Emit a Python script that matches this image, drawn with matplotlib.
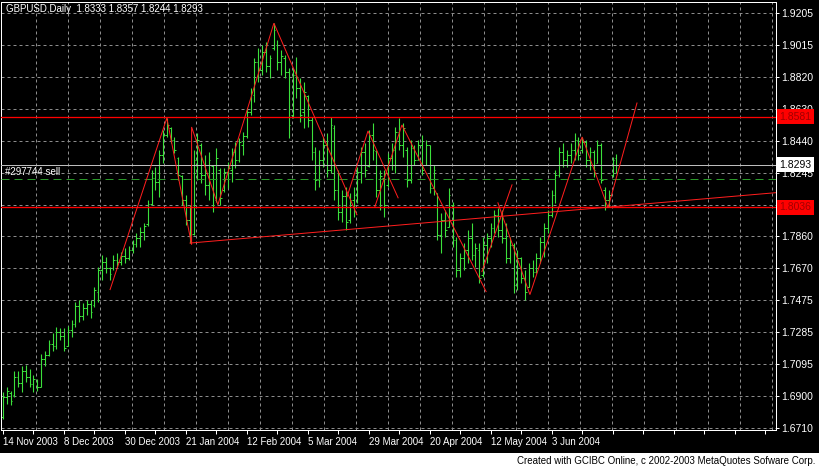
import matplotlib
matplotlib.use("Agg")
import matplotlib.pyplot as plt
from matplotlib.transforms import blended_transform_factory
from matplotlib.patches import Rectangle

plt.rcParams['lines.scale_dashes'] = False
FONT = ['Liberation Sans Narrow', 'Liberation Sans', 'DejaVu Sans']
FS = 7

title_text = "GBPUSD,Daily  1.8333 1.8357 1.8244 1.8293"
footer_text = "Created with GCIBC Online, c 2002-2003 MetaQuotes Sofware Corp."
date_labels = ["14 Nov 2003", "8 Dec 2003", "30 Dec 2003", "21 Jan 2004", "12 Feb 2004",
               "5 Mar 2004", "29 Mar 2004", "20 Apr 2004", "12 May 2004", "3 Jun 2004"]
date_label_bars = [0, 16, 32, 48, 64, 80, 96, 112, 128, 144]
price_tick_labels = ["1.6710", "1.6900", "1.7095", "1.7285", "1.7475", "1.7670", "1.7860",
                     "1.8055", "1.8245", "1.8440", "1.8630", "1.8820", "1.9015", "1.9205"]
price_min, price_max = 1.6710, 1.9205

opens = [1.6774, 1.6894, 1.6918, 1.6906, 1.7014, 1.6978, 1.7050, 1.7014, 1.6972, 1.6990,
         1.6954, 1.7122, 1.7146, 1.7218, 1.7206, 1.7290, 1.7266, 1.7206, 1.7302, 1.7338,
         1.7446, 1.7386, 1.7434, 1.7458, 1.7452, 1.7530, 1.7662, 1.7710, 1.7674, 1.7674,
         1.7722, 1.7710, 1.7746, 1.7734, 1.7782, 1.7818, 1.7854, 1.7890, 1.7938, 1.8058,
         1.8214, 1.8190, 1.8352, 1.8472, 1.8514, 1.8442, 1.8334, 1.8226, 1.8082, 1.7962,
         1.7878, 1.8322, 1.8412, 1.8232, 1.8172, 1.8286, 1.8082, 1.8262, 1.8142, 1.8250,
         1.8262, 1.8370, 1.8322, 1.8412, 1.8466, 1.8610, 1.8712, 1.8910, 1.8862, 1.8970,
         1.8886, 1.8994, 1.9012, 1.8910, 1.8934, 1.8850, 1.8592, 1.8832, 1.8754, 1.8610,
         1.8706, 1.8562, 1.8370, 1.8202, 1.8322, 1.8412, 1.8262, 1.8514, 1.8142, 1.8010,
         1.8106, 1.7962, 1.8082, 1.8112, 1.8250, 1.8370, 1.8286, 1.8472, 1.8376, 1.8142,
         1.8214, 1.8172, 1.8334, 1.8382, 1.8490, 1.8412, 1.8382, 1.8202, 1.8394, 1.8322,
         1.8412, 1.8292, 1.8412, 1.8154, 1.8124, 1.7872, 1.7962, 1.7920, 1.8052, 1.7842,
         1.7662, 1.7734, 1.7782, 1.7854, 1.7752, 1.7782, 1.7632, 1.7812, 1.7854, 1.7914,
         1.7992, 1.7902, 1.7854, 1.7734, 1.7812, 1.7572, 1.7734, 1.7614, 1.7560, 1.7674,
         1.7650, 1.7734, 1.7830, 1.7914, 1.7992, 1.8112, 1.8232, 1.8370, 1.8322, 1.8352,
         1.8382, 1.8442, 1.8382, 1.8430, 1.8322, 1.8370, 1.8304, 1.8412, 1.8142, 1.8082,
         1.8232, 1.8333]
highs = [1.6924, 1.6954, 1.6930, 1.7050, 1.7050, 1.7080, 1.7086, 1.7062, 1.7026, 1.7002,
         1.7152, 1.7170, 1.7242, 1.7284, 1.7320, 1.7314, 1.7314, 1.7326, 1.7362, 1.7470,
         1.7482, 1.7464, 1.7482, 1.7482, 1.7560, 1.7680, 1.7752, 1.7740, 1.7680, 1.7752,
         1.7764, 1.7770, 1.7794, 1.7806, 1.7842, 1.7884, 1.7920, 1.7944, 1.8082, 1.8262,
         1.8280, 1.8382, 1.8502, 1.8574, 1.8520, 1.8460, 1.8340, 1.8232, 1.8112, 1.8052,
         1.8382, 1.8484, 1.8424, 1.8352, 1.8370, 1.8292, 1.8394, 1.8274, 1.8274, 1.8310,
         1.8394, 1.8430, 1.8454, 1.8490, 1.8634, 1.8754, 1.8934, 1.8994, 1.9012, 1.9030,
         1.8952, 1.9144, 1.9042, 1.8982, 1.8952, 1.8874, 1.8874, 1.8940, 1.8814, 1.8790,
         1.8712, 1.8580, 1.8400, 1.8382, 1.8460, 1.8484, 1.8580, 1.8532, 1.8262, 1.8142,
         1.8160, 1.8124, 1.8160, 1.8280, 1.8400, 1.8424, 1.8502, 1.8544, 1.8382, 1.8262,
         1.8262, 1.8364, 1.8424, 1.8520, 1.8574, 1.8544, 1.8400, 1.8442, 1.8412, 1.8442,
         1.8472, 1.8442, 1.8412, 1.8292, 1.8124, 1.8004, 1.8022, 1.8154, 1.8070, 1.7860,
         1.7764, 1.7824, 1.7902, 1.7944, 1.7824, 1.7824, 1.7860, 1.7884, 1.7944, 1.8022,
         1.8034, 1.8022, 1.7944, 1.7860, 1.7824, 1.7782, 1.7740, 1.7662, 1.7704, 1.7722,
         1.7764, 1.7860, 1.7944, 1.8022, 1.8142, 1.8262, 1.8400, 1.8424, 1.8382, 1.8424,
         1.8484, 1.8460, 1.8460, 1.8442, 1.8400, 1.8382, 1.8442, 1.8424, 1.8160, 1.8142,
         1.8340, 1.8357]
lows = [1.6762, 1.6852, 1.6846, 1.6894, 1.6954, 1.6924, 1.6984, 1.6954, 1.6924, 1.6930,
        1.6954, 1.7080, 1.7140, 1.7170, 1.7182, 1.7242, 1.7170, 1.7206, 1.7260, 1.7320,
        1.7350, 1.7362, 1.7392, 1.7374, 1.7440, 1.7470, 1.7602, 1.7644, 1.7602, 1.7662,
        1.7680, 1.7692, 1.7704, 1.7722, 1.7764, 1.7800, 1.7800, 1.7842, 1.7926, 1.8052,
        1.8142, 1.8100, 1.8304, 1.8460, 1.8424, 1.8364, 1.8202, 1.8052, 1.7932, 1.7824,
        1.7872, 1.8202, 1.8184, 1.8112, 1.8082, 1.8010, 1.8070, 1.8052, 1.8130, 1.8154,
        1.8190, 1.8274, 1.8310, 1.8352, 1.8454, 1.8592, 1.8670, 1.8790, 1.8832, 1.8850,
        1.8814, 1.8982, 1.8862, 1.8832, 1.8814, 1.8454, 1.8574, 1.8694, 1.8550, 1.8514,
        1.8520, 1.8322, 1.8142, 1.8160, 1.8280, 1.8220, 1.8244, 1.8082, 1.7962, 1.7950,
        1.7902, 1.7944, 1.7980, 1.8064, 1.8184, 1.8220, 1.8280, 1.8322, 1.8100, 1.8022,
        1.7980, 1.8160, 1.8262, 1.8244, 1.8382, 1.8340, 1.8160, 1.8184, 1.8292, 1.8322,
        1.8232, 1.8292, 1.8124, 1.8112, 1.7842, 1.7764, 1.7860, 1.7920, 1.7800, 1.7620,
        1.7620, 1.7662, 1.7704, 1.7722, 1.7680, 1.7584, 1.7620, 1.7704, 1.7800, 1.7884,
        1.7860, 1.7824, 1.7704, 1.7704, 1.7524, 1.7542, 1.7584, 1.7482, 1.7560, 1.7620,
        1.7644, 1.7704, 1.7740, 1.7884, 1.7980, 1.8064, 1.8220, 1.8280, 1.8280, 1.8304,
        1.8322, 1.8322, 1.8364, 1.8280, 1.8262, 1.8220, 1.8304, 1.8184, 1.8022, 1.8040,
        1.8220, 1.8244]
closes = [1.6894, 1.6930, 1.6870, 1.7014, 1.6978, 1.7050, 1.7014, 1.6972, 1.7002, 1.6954,
          1.7122, 1.7146, 1.7218, 1.7206, 1.7290, 1.7266, 1.7194, 1.7302, 1.7338, 1.7446,
          1.7386, 1.7434, 1.7458, 1.7410, 1.7542, 1.7662, 1.7710, 1.7674, 1.7638, 1.7722,
          1.7710, 1.7746, 1.7734, 1.7782, 1.7818, 1.7854, 1.7890, 1.7926, 1.8058, 1.8214,
          1.8190, 1.8352, 1.8472, 1.8532, 1.8442, 1.8382, 1.8232, 1.8082, 1.7962, 1.7854,
          1.8322, 1.8442, 1.8232, 1.8172, 1.8322, 1.8052, 1.8334, 1.8094, 1.8250, 1.8274,
          1.8370, 1.8322, 1.8430, 1.8466, 1.8610, 1.8730, 1.8910, 1.8862, 1.8970, 1.8886,
          1.8934, 1.9102, 1.8910, 1.8946, 1.8850, 1.8532, 1.8832, 1.8754, 1.8592, 1.8730,
          1.8562, 1.8370, 1.8202, 1.8322, 1.8412, 1.8262, 1.8532, 1.8142, 1.8010, 1.8106,
          1.7950, 1.8082, 1.8112, 1.8250, 1.8370, 1.8262, 1.8472, 1.8382, 1.8142, 1.8226,
          1.8052, 1.8334, 1.8382, 1.8490, 1.8412, 1.8514, 1.8202, 1.8394, 1.8322, 1.8412,
          1.8262, 1.8412, 1.8154, 1.8262, 1.7872, 1.7962, 1.7902, 1.8112, 1.7842, 1.7662,
          1.7734, 1.7782, 1.7854, 1.7752, 1.7794, 1.7614, 1.7812, 1.7854, 1.7914, 1.7992,
          1.7902, 1.7854, 1.7734, 1.7812, 1.7572, 1.7734, 1.7614, 1.7530, 1.7674, 1.7650,
          1.7734, 1.7830, 1.7914, 1.7992, 1.8112, 1.8232, 1.8370, 1.8322, 1.8352, 1.8382,
          1.8442, 1.8352, 1.8430, 1.8322, 1.8370, 1.8262, 1.8412, 1.8202, 1.8082, 1.8112,
          1.8322, 1.8293]

level_upper = 1.8581
level_lower = 1.8036
bid_price = 1.8293
order_price = 1.8205
order_label = "#297744 sell"

zigzag_lines = [
    ([28.1, 43.0, 49.5, 49.5, 56.4, 71.1, 92.9],
     [1.7542, 1.8574, 1.7812, 1.8520, 1.8052, 1.9144, 1.7992]),
    ([90.3, 95.8, 103.7], [1.8100, 1.8496, 1.8094]),
    ([97.6, 104.7, 126.8], [1.8040, 1.8532, 1.7530]),
    ([125.7, 133.6], [1.7650, 1.8172]),
    ([129.9, 138.3, 152.0, 158.8, 166.4], [1.8064, 1.7512, 1.8460, 1.8034, 1.8664]),
]
trend_x = [49.1, 202.9]
trend_y = [1.7822, 1.8125]

# ---------------- figure ----------------
W, H = 819, 469
fig = plt.figure(figsize=(W / 100, H / 100), dpi=100, facecolor='black')
fig.add_artist(Rectangle((0, 0), 1, 16 / H, transform=fig.transFigure,
                         facecolor='white', edgecolor='none', zorder=0))
ax = fig.add_axes([1 / W, 39 / H, 775 / W, 428 / H])
ax.set_facecolor('black')

px = 0.72  # one pixel in points
bar_px = 3.81
ax.set_xlim(-2 / bar_px, 773 / bar_px)
step = (price_max - price_min) / 13
ax.set_ylim(price_min - 2 * step / 31.92, price_min + 426 * step / 31.92)

# grid
grid_vals = [price_min + k * step for k in range(14)]
for v in grid_vals:
    ax.axhline(v, color='#8c8c8c', lw=px, dashes=(3 * px, 3 * px), zorder=0.5)
for k in range(24):
    xf = (35.7 + 32 * k - 1) / 775
    ax.plot([xf, xf], [0, 1], transform=ax.transAxes, color='#8c8c8c', lw=px,
            dashes=(3 * px, 3 * px), zorder=0.5)

# bars
n = len(opens)
xs = list(range(n))
bar_col = '#3be03b'
ax.vlines(xs, lows, highs, color=bar_col, lw=px * 1.1, zorder=2)
ax.hlines(opens, [x - 0.45 for x in xs], xs, color=bar_col, lw=px, zorder=2)
ax.hlines(closes, xs, [x + 0.45 for x in xs], color=bar_col, lw=px, zorder=2)

# horizontal lines
ax.axhline(level_upper, color='#ff0000', lw=px * 1.3, zorder=3)
ax.axhline(level_lower, color='#ff0000', lw=px * 1.3, zorder=3)
ax.axhline(bid_price, color='#bdbdbd', lw=px, zorder=3)
ax.axhline(order_price, color='#2a9a2a', lw=px, dashes=(8 * px, 5 * px), zorder=3)

# zigzag & trend lines
for zx, zy in zigzag_lines:
    ax.plot(zx, zy, color='#ff1e1e', lw=px, zorder=4, solid_joinstyle='miter')
ax.plot(trend_x, trend_y, color='#ff1e1e', lw=px, zorder=4)

# axes styling
for s in ax.spines.values():
    s.set_color('white')
    s.set_linewidth(px)
ax.yaxis.tick_right()
ax.set_yticks(grid_vals)
ax.set_yticklabels(price_tick_labels)
ax.tick_params(axis='y', which='both', colors='white', length=3 * px, width=px,
               pad=1.5, labelsize=FS + 0.5)
xt = list(range(0, 203, 8))
ax.set_xticks(xt)
lab_map = dict(zip(date_label_bars, date_labels))
ax.set_xticklabels([lab_map.get(t, '') for t in xt])
ax.tick_params(axis='x', colors='white', length=4 * px, width=px, pad=2, labelsize=FS)
for lbl in ax.get_xticklabels():
    lbl.set_ha('left')
    lbl.set_family(FONT)
for lbl in ax.get_yticklabels():
    lbl.set_family(FONT)

blend = blended_transform_factory(ax.transAxes, ax.transData)
# price label boxes
for val, txt, fc, tc in [(level_upper, "1.8581", '#ff0000', '#a00000'),
                         (level_lower, "1.8036", '#ff0000', '#a00000'),
                         (bid_price, "1.8293", 'white', 'black')]:
    ax.text(1 + 3.5 / 775, val, txt, transform=blend, ha='left', va='center',
            color=tc, fontsize=FS + 0.5, family=FONT, zorder=6, clip_on=False,
            bbox=dict(boxstyle='square,pad=0.25', fc=fc, ec='none'))

# order label
ax.annotate(order_label, xy=(0, order_price), xycoords=blend, xytext=(3, 1.5),
            textcoords='offset points', ha='left', va='bottom', color='white',
            fontsize=FS, family=FONT, zorder=6)

# title
ax.text(5 / 775, 1 - 7.5 / 428, title_text, transform=ax.transAxes, ha='left', va='center',
        color='white', fontsize=FS, family=FONT, zorder=6)

# footer
fig.text(815 / W, 8 / H, footer_text, ha='right', va='center', color='black',
         fontsize=FS, family=FONT)

fig.savefig('out.png', dpi=100, facecolor='black')
